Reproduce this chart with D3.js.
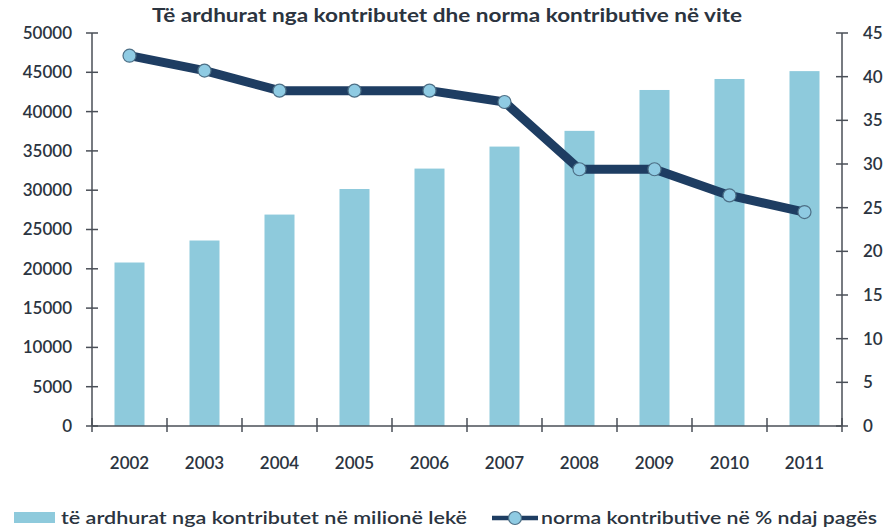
<!DOCTYPE html>
<html>
<head>
<meta charset="utf-8">
<script src="https://cdn.jsdelivr.net/npm/d3@7"></script>
<style>
  body { margin: 0; background: #fff; }
  text { font-family: "Lato", "Open Sans", sans-serif; fill: #2b3440; }
</style>
</head>
<body>
<div id="chart"></div>
<script>
// chart data
const years = ["2002", "2003", "2004", "2005", "2006", "2007", "2008", "2009", "2010", "2011"];
const revenue = [20800, 23600, 26900, 30150, 32750, 35550, 37550, 42750, 44150, 45150];
const rate = [42.4, 40.7, 38.4, 38.4, 38.4, 37.1, 29.4, 29.4, 26.4, 24.5];
const leftTicks = [0, 5000, 10000, 15000, 20000, 25000, 30000, 35000, 40000, 45000, 50000];
const rightTicks = [0, 5, 10, 15, 20, 25, 30, 35, 40, 45];

const titleText = "Të ardhurat nga kontributet dhe norma kontributive në vite";
const barLabel = "të ardhurat nga kontributet në milionë lekë";
const lineLabel = "norma kontributive në % ndaj pagës";

const width = 887, height = 528;
const margin = { top: 33, right: 45, bottom: 102, left: 92 };

const svg = d3.select("#chart").append("svg")
  .attr("width", width)
  .attr("height", height);

const x = d3.scaleBand()
  .domain(years)
  .range([margin.left, width - margin.right])
  .paddingInner(0.6)
  .paddingOuter(0.3);

const yL = d3.scaleLinear().domain([0, 50000]).range([height - margin.bottom, margin.top]);
const yR = d3.scaleLinear().domain([0, 45]).range([height - margin.bottom, margin.top]);

// bars
svg.append("g")
  .selectAll("rect")
  .data(revenue)
  .join("rect")
  .attr("x", (d, i) => x(years[i]))
  .attr("y", d => yL(d))
  .attr("width", x.bandwidth())
  .attr("height", d => yL(0) - yL(d))
  .attr("fill", "#8ecadc");

// axes
const axisColor = "#4a4f57";
const bandStep = x.step();
const x0 = margin.left, x1 = width - margin.right, y0 = yL(0);

const axes = svg.append("g").attr("stroke", axisColor).attr("stroke-width", 1.5);
axes.append("line").attr("x1", x0).attr("x2", x0).attr("y1", yL(50000)).attr("y2", y0);
axes.append("line").attr("x1", x1).attr("x2", x1).attr("y1", yR(45)).attr("y2", y0);
axes.append("line").attr("x1", x0).attr("x2", x1).attr("y1", y0).attr("y2", y0);

axes.selectAll(".lt").data(leftTicks).join("line")
  .attr("x1", x0 - 6).attr("x2", x0 + 6)
  .attr("y1", d => yL(d)).attr("y2", d => yL(d));
axes.selectAll(".rt").data(rightTicks).join("line")
  .attr("x1", x1 - 6).attr("x2", x1 + 6)
  .attr("y1", d => yR(d)).attr("y2", d => yR(d));
// category boundary ticks
axes.selectAll(".xt").data(d3.range(years.length + 1)).join("line")
  .attr("x1", i => x0 + i * bandStep).attr("x2", i => x0 + i * bandStep)
  .attr("y1", y0 - 8).attr("y2", y0 + 6);

svg.append("g").selectAll("text").data(leftTicks).join("text")
  .attr("x", 72).attr("y", d => yL(d)).attr("dy", "0.35em")
  .attr("text-anchor", "end")
  .attr("font-size", 17).attr("font-weight", 600)
  .text(d => d);

svg.append("g").selectAll("text").data(rightTicks).join("text")
  .attr("x", 863).attr("y", d => yR(d)).attr("dy", "0.35em")
  .attr("font-size", 17).attr("font-weight", 600)
  .text(d => d);

svg.append("g").selectAll("text").data(years).join("text")
  .attr("x", d => x(d) + x.bandwidth() / 2).attr("y", 463).attr("dy", "0.35em")
  .attr("text-anchor", "middle")
  .attr("font-size", 17).attr("font-weight", 600)
  .text(d => d);

// line
const line = d3.line()
  .x((d, i) => x(years[i]) + x.bandwidth() / 2)
  .y(d => yR(d));

svg.append("path")
  .datum(rate)
  .attr("d", line)
  .attr("fill", "none")
  .attr("stroke", "#1e3d62")
  .attr("stroke-width", 9)
  .attr("stroke-linejoin", "round");

svg.append("g").selectAll("circle").data(rate).join("circle")
  .attr("cx", (d, i) => x(years[i]) + x.bandwidth() / 2)
  .attr("cy", d => yR(d))
  .attr("r", 6.5)
  .attr("fill", "#8fcbe3")
  .attr("stroke", "#4d6f86")
  .attr("stroke-width", 1.2);

// title
svg.append("text")
  .attr("x", 447).attr("y", 22)
  .attr("text-anchor", "middle")
  .attr("font-size", 18).attr("font-weight", 700)
  .attr("textLength", 590).attr("lengthAdjust", "spacingAndGlyphs")
  .text(titleText);

// legend
const legend = svg.append("g");
legend.append("rect")
  .attr("x", 14).attr("y", 512).attr("width", 41).attr("height", 11)
  .attr("fill", "#8ecadc");
legend.append("text")
  .attr("x", 61).attr("y", 518).attr("dy", "0.35em")
  .attr("font-size", 18).attr("font-weight", 600)
  .attr("textLength", 406).attr("lengthAdjust", "spacingAndGlyphs")
  .text(barLabel);
legend.append("line")
  .attr("x1", 492).attr("x2", 538).attr("y1", 518).attr("y2", 518)
  .attr("stroke", "#1e3d62").attr("stroke-width", 4.5);
legend.append("circle")
  .attr("cx", 515).attr("cy", 518).attr("r", 6.5)
  .attr("fill", "#8fcbe3").attr("stroke", "#4d6f86").attr("stroke-width", 1.2);
legend.append("text")
  .attr("x", 541).attr("y", 518).attr("dy", "0.35em")
  .attr("font-size", 18).attr("font-weight", 600)
  .attr("textLength", 336).attr("lengthAdjust", "spacingAndGlyphs")
  .text(lineLabel);
</script>
</body>
</html>
